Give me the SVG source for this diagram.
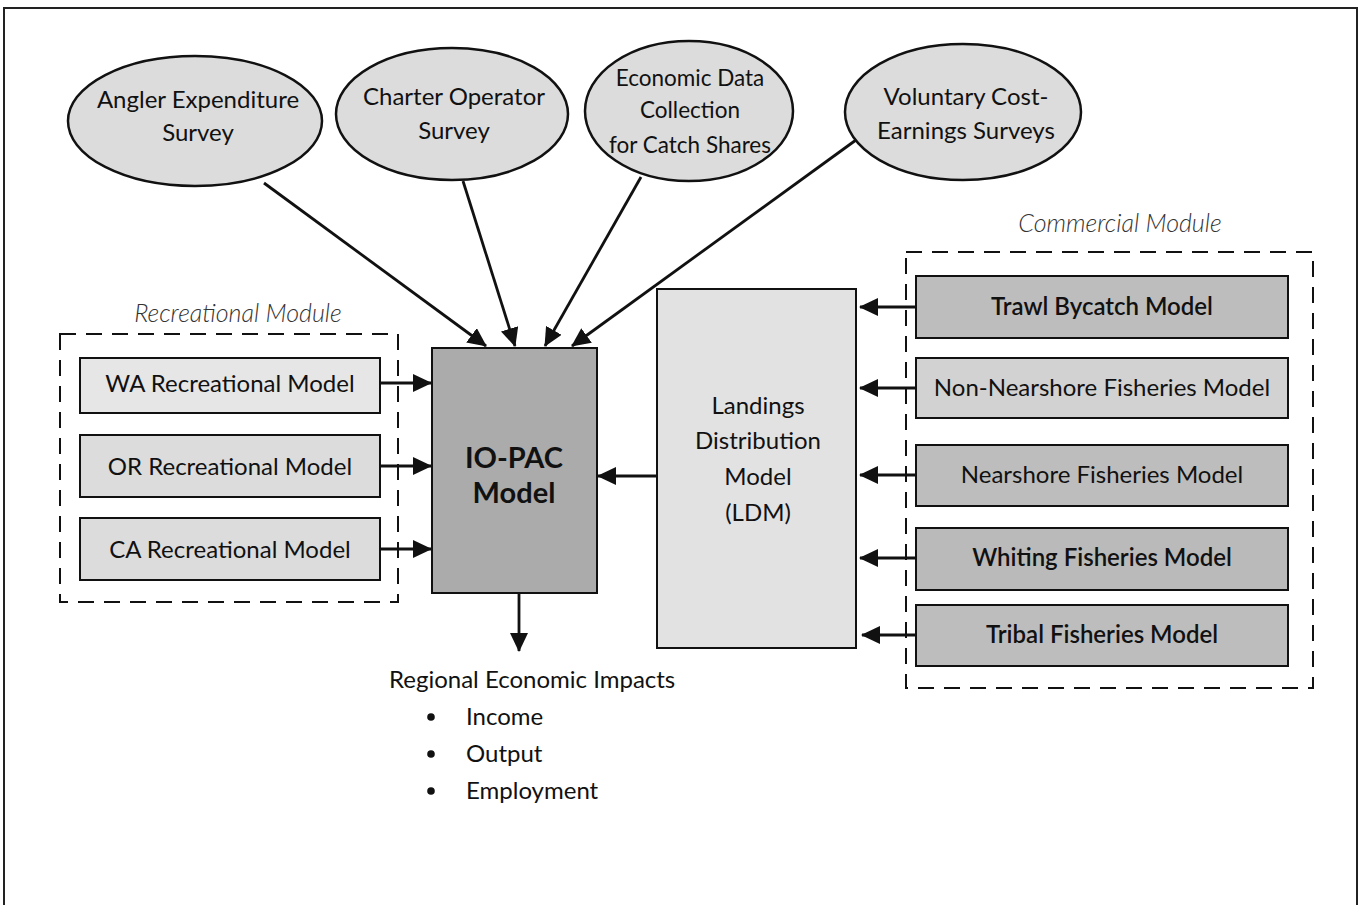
<svg xmlns="http://www.w3.org/2000/svg" width="1362" height="905" viewBox="0 0 1362 905">
<style>
  text { font-family: Lato, "Open Sans", "Liberation Sans", sans-serif; fill: #111; text-anchor: middle; }
  .t { font-size: 24px; }
  .ts { font-size: 22.5px; }
  .tb { font-size: 24px; font-weight: 600; }
  .big { font-size: 29px; font-weight: 700; }
  .lab { font-size: 25px; font-style: italic; font-weight: 300; fill: #333; }
  .ell { fill: #dcdcdc; stroke: #111; stroke-width: 2.5; }
  .box { stroke: #111; stroke-width: 2; }
  .dash { fill: none; stroke: #111; stroke-width: 2; stroke-dasharray: 16 10; }
  .con { stroke: #111; stroke-width: 2.8; fill: none; }
  .l { text-anchor: start; font-size: 24px; }
</style>
<defs>
  <marker id="ah" markerUnits="userSpaceOnUse" markerWidth="20" markerHeight="18" refX="18" refY="9" orient="auto">
    <path d="M0,0 L19,9 L0,18 Z" fill="#111"/>
  </marker>
</defs>
<rect width="1362" height="905" fill="#ffffff"/>
<rect id="frame" x="4" y="8" width="1353" height="920" fill="none" stroke="#222" stroke-width="2"/>

<g id="angler"><ellipse class="ell" cx="195" cy="121" rx="127" ry="65"/>
<text class="t" x="198" y="108">Angler Expenditure</text><text class="t" x="198" y="141">Survey</text></g>
<g id="charter"><ellipse class="ell" cx="452" cy="114" rx="116" ry="66"/>
<text class="t" x="454" y="105">Charter Operator</text><text class="t" x="454" y="139">Survey</text></g>
<g id="edc"><ellipse class="ell" cx="689" cy="111" rx="104" ry="70"/>
<text class="ts" x="690" y="86">Economic Data</text><text class="ts" x="690" y="118">Collection</text><text class="ts" x="690" y="153">for Catch Shares</text></g>
<g id="voluntary"><ellipse class="ell" cx="963" cy="112" rx="118" ry="68"/>
<text class="t" x="966" y="105">Voluntary Cost-</text><text class="t" x="966" y="139">Earnings Surveys</text></g>

<text class="lab" x="238" y="322">Recreational Module</text>
<rect id="recmod" class="dash" x="60" y="334" width="338" height="268"/>
<g id="wa"><rect class="box" x="80" y="358" width="300" height="55" fill="#e6e6e6"/><text class="t" x="230" y="392">WA Recreational Model</text></g>
<g id="or"><rect class="box" x="80" y="435" width="300" height="62" fill="#dcdcdc"/><text class="t" x="230" y="475">OR Recreational Model</text></g>
<g id="ca"><rect class="box" x="80" y="518" width="300" height="62" fill="#dcdcdc"/><text class="t" x="230" y="558">CA Recreational Model</text></g>

<g id="iopac"><rect class="box" x="432" y="348" width="165" height="245" fill="#ababab"/>
<text class="big" x="514" y="468">IO-PAC</text><text class="big" x="514" y="503">Model</text></g>

<g id="ldm"><rect class="box" x="657" y="289" width="199" height="359" fill="#e2e2e2"/>
<text class="t" x="758" y="414">Landings</text><text class="t" x="758" y="449">Distribution</text><text class="t" x="758" y="485">Model</text><text class="t" x="758" y="521">(LDM)</text></g>

<text class="lab" x="1120" y="232">Commercial Module</text>
<rect id="commod" class="dash" x="906" y="252" width="407" height="436"/>
<g id="trawl"><rect class="box" x="916" y="276" width="372" height="62" fill="#bdbdbd"/><text class="tb" x="1102" y="315">Trawl Bycatch Model</text></g>
<g id="nonnear"><rect class="box" x="916" y="358" width="372" height="60" fill="#d2d2d2"/><text class="t" x="1102" y="396">Non-Nearshore Fisheries Model</text></g>
<g id="near"><rect class="box" x="916" y="445" width="372" height="61" fill="#bdbdbd"/><text class="t" x="1102" y="483">Nearshore Fisheries Model</text></g>
<g id="whiting"><rect class="box" x="916" y="528" width="372" height="62" fill="#bababa"/><text class="tb" x="1102" y="566">Whiting Fisheries Model</text></g>
<g id="tribal"><rect class="box" x="916" y="605" width="372" height="61" fill="#bdbdbd"/><text class="tb" x="1102" y="643">Tribal Fisheries Model</text></g>

<g id="connectors">
  <line class="con" x1="264" y1="183" x2="486" y2="346" marker-end="url(#ah)"/>
  <line class="con" x1="463" y1="181" x2="515" y2="346" marker-end="url(#ah)"/>
  <line class="con" x1="641" y1="177" x2="545" y2="346" marker-end="url(#ah)"/>
  <line class="con" x1="856" y1="140" x2="572" y2="346" marker-end="url(#ah)"/>
  <line class="con" x1="380" y1="383" x2="431" y2="383" marker-end="url(#ah)"/>
  <line class="con" x1="380" y1="466" x2="431" y2="466" marker-end="url(#ah)"/>
  <line class="con" x1="380" y1="549" x2="431" y2="549" marker-end="url(#ah)"/>
  <line class="con" x1="657" y1="476" x2="598" y2="476" marker-end="url(#ah)"/>
  <line class="con" x1="916" y1="307" x2="860" y2="307" marker-end="url(#ah)"/>
  <line class="con" x1="916" y1="388" x2="860" y2="388" marker-end="url(#ah)"/>
  <line class="con" x1="916" y1="475" x2="860" y2="475" marker-end="url(#ah)"/>
  <line class="con" x1="916" y1="558" x2="860" y2="558" marker-end="url(#ah)"/>
  <line class="con" x1="916" y1="635" x2="862" y2="635" marker-end="url(#ah)"/>
  <line class="con" x1="519" y1="593" x2="519" y2="651" marker-end="url(#ah)"/>
</g>

<g id="impacts">
  <text class="l" x="389" y="688">Regional Economic Impacts</text>
  <circle cx="431" cy="717" r="3.8" fill="#111"/><text class="l" x="466" y="725">Income</text>
  <circle cx="431" cy="754" r="3.8" fill="#111"/><text class="l" x="466" y="762">Output</text>
  <circle cx="431" cy="791" r="3.8" fill="#111"/><text class="l" x="466" y="799">Employment</text>
</g>
</svg>
